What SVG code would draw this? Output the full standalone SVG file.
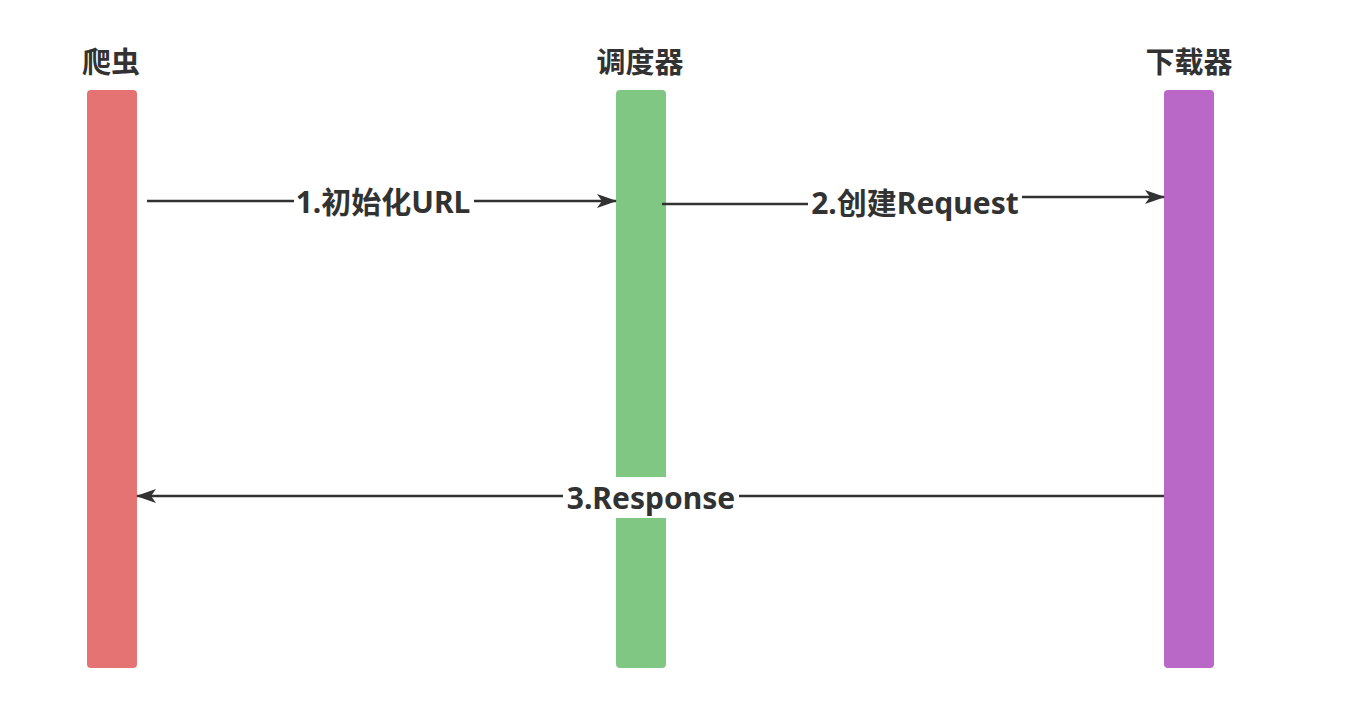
<svg xmlns="http://www.w3.org/2000/svg" width="1353" height="714" viewBox="0 0 1353 714">
<style>
.t{font-family:"Noto Sans","Noto Sans CJK SC",sans-serif;font-weight:bold;font-size:30px;fill:#323232;text-anchor:middle}
.h{font-size:29px}
.c{stroke:#323232;stroke-width:2.5;fill:none}
.bg{fill:#ffffff}
</style>
<defs>
<marker id="ah" markerWidth="20" markerHeight="14" refX="19" refY="7" orient="auto" markerUnits="userSpaceOnUse" viewBox="0 0 20 14">
<path d="M0,0 L20,7 L0,14 L5,7 Z" fill="#323232"/>
</marker>
</defs>
<rect width="1353" height="714" fill="#ffffff"/>
<g id="crawler">
<text class="t h" x="111" y="73">爬虫</text>
<rect x="87" y="90" width="50" height="578" rx="4" fill="#E57373"/>
</g>
<g id="scheduler">
<text class="t h" x="640" y="73">调度器</text>
<rect x="616" y="90" width="50" height="578" rx="4" fill="#81C784"/>
</g>
<g id="downloader">
<text class="t h" x="1189" y="73">下载器</text>
<rect x="1164" y="90" width="50" height="578" rx="4" fill="#BA68C8"/>
</g>
<g id="connectors">
<path class="c" d="M147,201 L616,201" marker-end="url(#ah)"/>
<rect class="bg" x="294" y="182" width="180" height="38"/>
<text class="t" x="383" y="213">1.初始化URL</text>
<path class="c" d="M662,204 L915,204 L915,197 L1164,197" marker-end="url(#ah)"/>
<rect class="bg" x="808" y="183" width="214" height="38"/>
<text class="t" x="915" y="214">2.创建Request</text>
<path class="c" d="M1164,496 L137,496" marker-end="url(#ah)"/>
<rect class="bg" x="563" y="477" width="176" height="41"/>
<text class="t" x="651" y="509">3.Response</text>
</g>
</svg>
